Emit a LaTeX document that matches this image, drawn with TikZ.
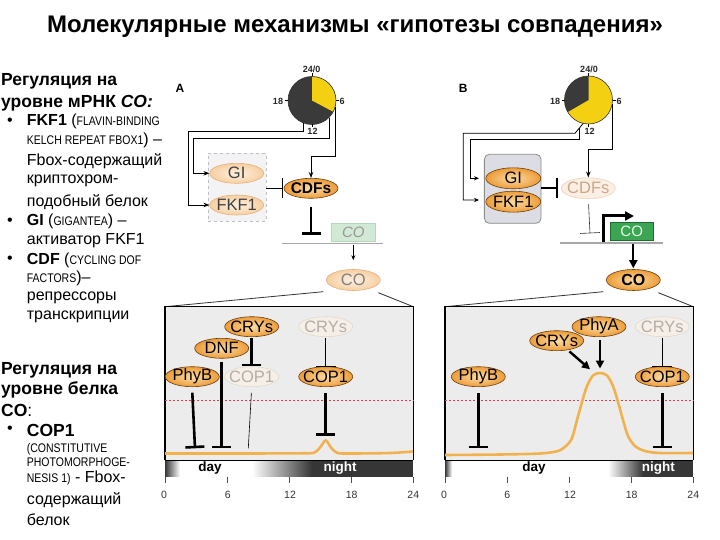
\documentclass[tikz,border=0pt]{standalone}
\usepackage{fontspec}
\setmainfont{Liberation Sans}
\newfontfamily\narrowsans[FakeStretch=0.84]{Liberation Sans}
\usetikzlibrary{shapes.geometric,arrows.meta,calc}
\definecolor{darkclk}{HTML}{3A3A3A}
\definecolor{yel}{HTML}{F4D012}
\definecolor{orin}{HTML}{FCDCA6}
\definecolor{orout}{HTML}{EC9C38}
\definecolor{ordraw}{HTML}{6B4010}
\definecolor{palein}{HTML}{FDF1E2}
\definecolor{paleout}{HTML}{F7CFA2}
\definecolor{paledraw}{HTML}{E3B07C}
\definecolor{fadefill}{HTML}{F5EFE8}
\definecolor{fadedraw}{HTML}{E2D9CE}
\definecolor{fadetext}{HTML}{B5ADA5}
\definecolor{panelgray}{HTML}{ECECEC}
\definecolor{barDark}{HTML}{363636}
\definecolor{curvecol}{HTML}{F1B24E}
\definecolor{reddot}{HTML}{D8404F}
\definecolor{dnagray}{HTML}{A8A8A8}
\definecolor{genepale}{HTML}{D2E9D6}
\definecolor{genepaledraw}{HTML}{B8D4BC}
\definecolor{genegreen}{HTML}{3BA554}
\definecolor{genegreendraw}{HTML}{1F6E30}
\definecolor{boxBfill}{HTML}{DCDDE4}
\definecolor{boxAfill}{HTML}{F3F3F6}
\definecolor{cdfpale}{HTML}{FBEEE2}
\definecolor{cdfpaledraw}{HTML}{EBD3BC}
\definecolor{cdfpaletext}{HTML}{C8A88C}
\tikzset{
  ellbase/.style={ellipse, line width=0.6pt, minimum width=54pt, minimum height=20pt, inner sep=-5pt,
    font=\fontsize{16.5}{17}\selectfont},
  ell/.style={ellbase, draw=ordraw, inner color=orin, outer color=orout, text=black},
  fadeell/.style={ellbase, draw=fadedraw, fill=fadefill, text=fadetext},
  paleell/.style={ellbase, draw=paledraw, inner color=palein, outer color=paleout, text=black!75},
  inhthick/.style={line width=2.6pt, -{Bar[width=19pt]}},
  inhthin/.style={line width=0.6pt, -{Bar[width=20pt]}},
  conn/.style={line width=0.8pt},
  arr/.style={line width=0.8pt, -{Stealth[length=6pt,width=4.5pt]}},
  bigarr/.style={line width=2.4pt, -{Triangle[length=8pt,width=8pt]}},
  zoomline/.style={line width=0.8pt, black!80},
  hdr/.style={anchor=west, inner sep=0pt, font=\fontsize{17.5}{18}\selectfont\bfseries},
  body/.style={anchor=west, inner sep=0pt, font=\fontsize{16}{17}\selectfont},
  clklbl/.style={inner sep=0pt, font=\fontsize{9}{9}\selectfont\bfseries, text=black!85},
  ticklbl/.style={inner sep=0pt, font=\fontsize{10.5}{10.5}\selectfont, text=black!80},
  daylbl/.style={inner sep=0pt, font=\fontsize{13.5}{13.5}\selectfont\bfseries},
  panellbl/.style={inner sep=0pt, font=\fontsize{12}{12}\selectfont\bfseries},
}
\newcommand{\sm}[1]{{\narrowsans\fontsize{12.5}{12}\selectfont #1}}
\begin{document}
\begin{tikzpicture}[x=1pt,y=-1pt]
\useasboundingbox[fill=white] (0,0) rectangle (720,540);

% ---------- title ----------
\node[inner sep=0pt, font=\fontsize{24}{25}\selectfont\bfseries] (title) at (355,27)
  {Молекулярные механизмы «гипотезы совпадения»};

% ---------- left text ----------
\node[hdr] (t1) at (1,81.7) {Регуляция на};
\node[hdr] (t2) at (1,103.3) {уровне мРНК \textit{CO:}};
\node[body] (b1) at (7,121.7) {•};
\node[body] (t3) at (26.7,121.7) {\textbf{FKF1} (\sm{FLAVIN-BINDING}};
\node[body] (t4) at (26.7,140.7) {\sm{KELCH REPEAT FBOX1}) –};
\node[body] (t5) at (26.7,161.7) {Fbox-содержащий};
\node[body] (t6) at (26.7,180.7) {криптохром-};
\node[body] (t7) at (26.7,201.7) {подобный белок};
\node[body] (b2) at (7,221.7) {•};
\node[body] (t8) at (26.7,221.7) {\textbf{GI} (\sm{GIGANTEA}) –};
\node[body] (t9) at (26.7,241) {активатор FKF1};
\node[body] (b3) at (7,260) {•};
\node[body] (t10) at (26.7,260) {\textbf{CDF} (\sm{CYCLING DOF}};
\node[body] (t11) at (26.7,278.3) {\sm{FACTORS})–};
\node[body] (t12) at (26.7,298.3) {репрессоры};
\node[body] (t13) at (26.7,316.7) {транскрипции};

\node[hdr] (t14) at (1,370) {Регуляция на};
\node[hdr] (t15) at (1,390) {уровне белка};
\node[hdr] (t16) at (1,410) {CO\textmd{:}};
\node[body] (b4) at (7,430) {•};
\node[hdr] (t17) at (26.7,430) {COP1};
\node[body] (t18) at (26.7,449.3) {\sm{(CONSTITUTIVE}};
\node[body] (t19) at (26.7,462) {\sm{PHOTOMORPHOGE-}};
\node[body] (t20) at (26.7,478) {\sm{NESIS 1)} - Fbox-};
\node[body] (t21) at (26.7,500) {содержащий};
\node[body] (t22) at (26.7,519.3) {белок};

% =====================================================
% ---------- Panel A (top) ----------
\node[panellbl] (labA) at (180,88) {A};
\begin{scope}[shift={(312,100.5)}, y=1pt]
  \fill[darkclk] (0,0) circle[radius=24];
  \fill[yel] (0,0) -- (90:24) arc[start angle=90, end angle=-28, radius=24] -- cycle;
  \draw[line width=0.6pt, black!80] (0,0) circle[radius=24];
  \draw[line width=0.6pt] (0,24) -- (0,27) (24,0) -- (27,0) (0,-24) -- (0,-27) (-24,0) -- (-27,0);
\end{scope}
\node[circle, minimum size=48pt, inner sep=0pt] (clkA) at (312,100.5) {};
\node[clklbl] (cA0) at (311.7,69.5) {24/0};
\node[clklbl] (cA18) at (278,101.5) {18};
\node[clklbl] (cA6) at (342,101.5) {6};
\node[clklbl] (cA12) at (312.5,131) {12};

\node[draw=black!25, dashed, fill=boxAfill, line width=0.7pt, minimum width=57.7pt, minimum height=67.7pt, inner sep=0pt] (boxA) at (237.2,187.2) {};
\node[paleell] (GIa) at (236.7,173.3) {GI};
\node[paleell] (FKFa) at (236.7,205) {FKF1};
\node[ell, font=\fontsize{15.5}{15}\selectfont\bfseries] (CDFa) at (311,188.3) {CDFs};

\coordinate (wA1) at (188.3,131.7);
\coordinate (wA2) at (193.3,138.3);
\coordinate (wA3) at (311,156.7);
\draw[arr] (clkA.-111) |- (wA1) |- (FKFa.west);
\draw[arr] (clkA.-45) |- (wA2) |- (GIa.west);
\draw[arr] (clkA.-15) |- (wA3) -- (CDFa.north);
\draw[inhthin] (boxA.east |- CDFa) -- ([xshift=-1pt]CDFa.west);

\coordinate (tA) at (311,235);
\draw[inhthick, shorten <=8pt] (CDFa.south) -- (tA);

\coordinate (dnaA1) at (281.7,243.3);
\coordinate (dnaA2) at (383.3,243.3);
\draw[dnagray, line width=1.6pt] (dnaA1) -- (dnaA2);
\node[draw=genepaledraw, fill=genepale, minimum width=43.3pt, minimum height=18.3pt, inner sep=0pt,
  text=black!40, font=\fontsize{15}{15}\selectfont\itshape] (COgA) at (353.3,232.5) {CO};
\node[paleell, minimum height=21pt, text=black!50] (COa) at (353.3,280) {CO};
\draw[line width=0.7pt, -{Stealth[length=5pt,width=4pt]}, shorten <=3pt, shorten >=9pt] (COgA.south) -- (COa.north);

% zoom lines A
\coordinate (zA1) at (323.3,291.7);
\coordinate (zA2) at (378.3,292.7);
\coordinate (pA1) at (165,306.7);
\coordinate (pA2) at (413.3,306.7);
\draw[zoomline] (zA1) -- (pA1);
\draw[zoomline] (zA2) -- (pA2);

% ---------- Panel A (bottom) ----------
\fill[panelgray] (165,306.7) rectangle (413.3,459.5);
\draw[line width=1.1pt] (165,460) -- (pA1) -- (pA2) -- (413.3,460);
\draw[reddot, line width=1pt, dash pattern=on 2pt off 2pt] (165,400) -- (413.3,400);
% day bar
\fill[barDark] (165,460) rectangle (413.3,476.7);
\shade[left color=barDark, right color=white] (165,460) rectangle (180,476.7);
\fill[white] (180,460) rectangle (252,476.7);
\shade[left color=white, right color=barDark] (252,460) rectangle (312,476.7);
\draw[line width=1pt] (165,460) -- (413.3,460);
\node[daylbl] (dayA) at (210,468) {day};
\node[daylbl, text=white] (nightA) at (340,468) {night};
\foreach \h in {0,6,12,18,24} \draw[black!70, line width=0.6pt] ({165+10.347*\h},476.7) -- ++(0,6);
\node[ticklbl] (xA0) at (164,495) {0};
\node[ticklbl] (xA6) at (227.7,495) {6};
\node[ticklbl] (xA12) at (290,495) {12};
\node[ticklbl] (xA18) at (351.7,495) {18};
\node[ticklbl] (xA24) at (413.3,495) {24};
% curve A
\draw[curvecol, line width=2.6pt] plot[smooth, tension=0.5] coordinates {(165,453.5) (240,453.5) (300,453.3) (314,452.8) (320,447.5) (325.7,440.5) (331,447.5) (337,452.8) (350,453.5) (390,453) (413,451.5)};

\node[ell] (CRYa) at (251.7,326.7) {CRYs};
\node[ell] (DNFa) at (221.7,348.3) {DNF};
\node[ell] (PhyBa) at (192.3,376.7) {PhyB};
\node[fadeell] (COP1fa) at (251.7,376.7) {COP1};
\node[fadeell] (CRYfa) at (325.7,326.7) {CRYs};
\node[ell] (COP1a) at (325.7,376.7) {COP1};

\coordinate (iA1) at (195,448.3);
\coordinate (iA2) at (221.7,448.3);
\coordinate (iA3) at (248.3,448.3);
\coordinate (iA4) at (325.7,436);
\coordinate (sA1) at (192.3,392.7);
\draw[inhthick, shorten <=1pt] (CRYa.south) -- (COP1fa.north);
\draw[inhthick, shorten <=3pt] (DNFa.south) -- (iA2);
\draw[inhthick] (sA1) -- (iA1);
\draw[line width=0.6pt, shorten <=6pt] (COP1fa.south) -- (iA3);
\draw[inhthin, shorten <=1pt] (CRYfa.south) -- (COP1a.north);
\draw[inhthick, shorten <=6pt] (COP1a.south) -- (iA4);

% =====================================================
% ---------- Panel B (top) ----------
\node[panellbl] (labB) at (463.3,88) {B};
\begin{scope}[shift={(588.5,100)}, y=1pt]
  \fill[yel] (0,0) circle[radius=24];
  \fill[darkclk] (0,0) -- (90:24) arc[start angle=90, end angle=210, radius=24] -- cycle;
  \draw[line width=0.6pt, black!80] (0,0) circle[radius=24];
  \draw[line width=0.6pt] (0,24) -- (0,27) (24,0) -- (27,0) (0,-24) -- (0,-27) (-24,0) -- (-27,0);
\end{scope}
\node[circle, minimum size=48pt, inner sep=0pt] (clkB) at (588.5,100) {};
\node[clklbl] (cB0) at (589,69.5) {24/0};
\node[clklbl] (cB18) at (555,101.5) {18};
\node[clklbl] (cB6) at (619,101.5) {6};
\node[clklbl] (cB12) at (589.5,131.5) {12};

\node[draw=black!45, fill=boxBfill, rounded corners=5pt, line width=0.8pt, minimum width=56.7pt, minimum height=69pt, inner sep=0pt] (boxB) at (512.7,188.8) {};
\node[ell, minimum width=55pt, minimum height=21pt] (GIb) at (513.3,178.3) {GI};
\node[ell, minimum width=55pt, minimum height=21pt] (FKFb) at (513.3,201.7) {FKF1};
\node[ellbase, draw=cdfpaledraw, fill=cdfpale, minimum height=21pt, text=cdfpaletext] (CDFb) at (588.3,188.3) {CDFs};

\coordinate (wB0) at (575,133.3);
\coordinate (wB1) at (463.3,133.3);
\coordinate (wB2) at (579.3,128.5);
\coordinate (wB3) at (470,139.3);
\coordinate (wB4) at (588.3,149.3);
\coordinate (aB1) at (479,200);
\coordinate (aB2) at (479,178.3);
\draw[arr, -{Stealth[length=5pt,width=4pt]}] (clkB.-103) -- (wB0) -- (wB1) |- (aB1);
\draw[arr, -{Stealth[length=5pt,width=4pt]}] (wB2) |- (wB3) |- (aB2);
\draw[arr] (clkB.-10) |- (wB4) -- (CDFb.north);
\draw[line width=2.4pt, -{Bar[width=20pt]}] (boxB.east |- CDFb) -- ([xshift=-3pt]CDFb.west);

\coordinate (dnaB1) at (560,242.7);
\coordinate (dnaB2) at (663.3,242.7);
\coordinate (tB) at (590,233.3);
\draw[inhthin, black!80, shorten <=5pt] (CDFb.south) -- (tB);
\draw[dnagray, line width=1.6pt] (dnaB1) -- (dnaB2);
\node[draw=genegreendraw, fill=genegreen, minimum width=43.3pt, minimum height=18.3pt, inner sep=0pt,
  text=green!10, font=\fontsize{15}{15}\selectfont] (COgB) at (631.7,231) {CO};
\coordinate (prB1) at (603.3,241.7);
\coordinate (prB2) at (634,216);
\draw[line width=3pt, -{Triangle[length=9pt,width=9pt]}] (prB1) |- (prB2);
\node[ell, minimum height=21pt, font=\fontsize{16}{16}\selectfont\bfseries] (COb) at (633.3,280) {CO};
\draw[line width=1.8pt, -{Triangle[length=8pt,width=8pt]}, shorten <=4pt, shorten >=1pt] (COgB.south -| COb.north) -- (COb.north);

% zoom lines B
\coordinate (zB1) at (603.3,291.7);
\coordinate (zB2) at (658.3,292.7);
\coordinate (pB1) at (445,306.7);
\coordinate (pB2) at (693.3,306.7);
\draw[zoomline] (zB1) -- (pB1);
\draw[zoomline] (zB2) -- (pB2);

% ---------- Panel B (bottom) ----------
\fill[panelgray] (445,306.7) rectangle (693.3,459.5);
\draw[line width=1.1pt] (445,460) -- (pB1) -- (pB2) -- (693.3,460);
\draw[reddot, line width=1pt, dash pattern=on 2pt off 2pt] (445,400) -- (693.3,400);
\fill[barDark] (445,460) rectangle (693.3,476.7);
\shade[left color=barDark, right color=white] (445,460) rectangle (452,476.7);
\fill[white] (452,460) rectangle (608,476.7);
\shade[left color=white, right color=barDark] (608,460) rectangle (643,476.7);
\draw[line width=1pt] (445,460) -- (693.3,460);
\node[daylbl] (dayB) at (534,468) {day};
\node[daylbl, text=white] (nightB) at (658.3,468) {night};
\foreach \h in {0,6,12,18,24} \draw[black!70, line width=0.6pt] ({445+10.347*\h},476.7) -- ++(0,6);
\node[ticklbl] (xB0) at (444,495) {0};
\node[ticklbl] (xB6) at (507.3,495) {6};
\node[ticklbl] (xB12) at (570,495) {12};
\node[ticklbl] (xB18) at (631.7,495) {18};
\node[ticklbl] (xB24) at (693.3,495) {24};
\draw[curvecol, line width=2.6pt] plot[smooth, tension=0.5] coordinates {(445,455) (500,454.5) (540,453.5) (558,451) (566,446) (572,438) (577,420) (582,402) (587,386) (593,375.5) (600,373) (607,375.5) (613,386) (618,402) (623,420) (628,436) (635,446) (645,451) (660,453) (693,453)};

\node[ell] (PhyBb) at (478.3,376.7) {PhyB};
\node[ell] (CRYb) at (556.7,340.7) {CRYs};
\node[ell] (PhyAb) at (599,326.7) {PhyA};
\node[fadeell] (CRYfb) at (662.3,326.7) {CRYs};
\node[ell] (COP1b) at (662.3,376.7) {COP1};

\coordinate (iB1) at (478.3,448.3);
\coordinate (iB2) at (662.3,448.3);
\coordinate (pk1) at (600,368.5);
\coordinate (pk2) at (590,369.3);
\draw[inhthick, shorten <=6pt] (PhyBb.south) -- (iB1);
\draw[inhthin, shorten <=1pt] (CRYfb.south) -- (COP1b.north);
\draw[inhthick, shorten <=6pt] (COP1b.south) -- (iB2);
\draw[bigarr, shorten <=3pt] (PhyAb.south -| pk1) -- (pk1);
\draw[bigarr, shorten <=2pt] (CRYb.-40) -- (pk2);
\end{tikzpicture}
\end{document}
